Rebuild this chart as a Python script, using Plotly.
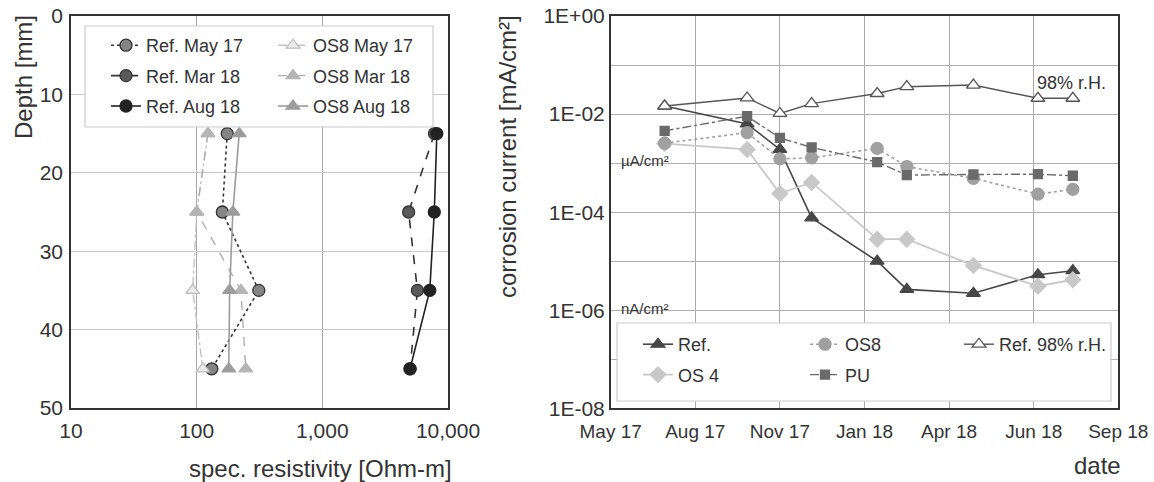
import plotly.graph_objects as go

# ---------------- data: left panel (resistivity profiles) ----------------
depth = [15, 25, 35, 45]
ref_may17 = [175, 160, 312, 132]
ref_mar18 = [7800, 4860, 5710, 4990]
ref_aug18 = [8150, 7780, 7160, 4990]
os8_may17 = [123, 100, 93, 112]
os8_mar18 = [123, 100, 225, 246]
os8_aug18 = [218, 194, 183, 180]
res_ticks = [10, 100, 1000, 10000]
res_ticktext = ["10", "100", "1,000", "10,000"]
depth_ticks = [0, 10, 20, 30, 40, 50]

# ---------------- data: right panel (corrosion current) ----------------
dates = ["2017-07-15", "2017-10-01", "2017-11-01", "2017-12-01", "2018-02-01",
         "2018-03-01", "2018-05-03", "2018-07-03", "2018-08-05"]
cur_ref = [1.46e-2, 6.3e-3, 1.9e-3, 7.65e-5, 1.0e-5, 2.66e-6, 2.22e-6, 5.3e-6, 6.4e-6]
cur_os8 = [2.55e-3, 4.18e-3, 1.22e-3, 1.28e-3, 2.0e-3, 8.5e-4, 4.9e-4, 2.33e-4, 2.92e-4]
cur_ref98 = [1.46e-2, 2.13e-2, 1.03e-2, 1.63e-2, 2.63e-2, 3.62e-2, 3.91e-2, 2.1e-2, 2.1e-2]
cur_os4 = [2.5e-3, 1.9e-3, 2.4e-4, 4.04e-4, 2.81e-5, 2.81e-5, 8.2e-6, 3.09e-6, 4.18e-6]
cur_pu = [4.54e-3, 9.06e-3, 3.27e-3, 2.09e-3, 1.05e-3, 5.69e-4, 5.86e-4, 5.95e-4, 5.52e-4]
date_ticks = ["2017-05-25", "2017-08-13", "2017-11-01", "2018-01-20",
              "2018-04-10", "2018-06-29", "2018-09-17"]
date_ticktext = ["May 17", "Aug 17", "Nov 17", "Jan 18", "Apr 18", "Jun 18", "Sep 18"]
cur_ticks = [1e0, 1e-1, 1e-2, 1e-3, 1e-4, 1e-5, 1e-6, 1e-7, 1e-8]
cur_ticktext = ["1E+00", "", "1E-02", "", "1E-04", "", "1E-06", "", "1E-08"]

FONT = "Liberation Sans, Arial, sans-serif"
TXT = "#333333"
W, H = 1154, 482


def px(x):
    """screen pixel x -> paper fraction"""
    return x / W


def py(y):
    """screen pixel y -> paper fraction"""
    return 1 - y / H


fig = go.Figure()

# left panel traces: (name, values, line colour, dash, width, symbol, fill, outline, legend)
left = [
    ("Ref. May 17", ref_may17, "#333333", "dot", 1.6, "circle", "#858585", "#333333", "legend"),
    ("Ref. Mar 18", ref_mar18, "#333333", "dash", 1.6, "circle", "#5a5a5a", "#333333", "legend"),
    ("Ref. Aug 18", ref_aug18, "#222222", "solid", 1.6, "circle", "#222222", "#222222", "legend"),
    ("OS8 May 17", os8_may17, "#c4c4c4", "dashdot", 1.4, "triangle-up", "#ececec", "#bdbdbd", "legend2"),
    ("OS8 Mar 18", os8_mar18, "#b0b0b0", "dash", 1.4, "triangle-up", "#b4b4b4", "#b4b4b4", "legend2"),
    ("OS8 Aug 18", os8_aug18, "#9c9c9c", "solid", 1.6, "triangle-up", "#9c9c9c", "#9c9c9c", "legend2"),
]
for name, vals, lc, dash, lw, sym, fc, mc, lg in left:
    fig.add_trace(go.Scatter(
        x=vals, y=depth, name=name, mode="lines+markers",
        line=dict(color=lc, dash=dash, width=lw),
        marker=dict(symbol=sym, size=12, color=fc, line=dict(color=mc, width=1.3)),
        xaxis="x", yaxis="y", legend=lg, legendgroup=name))

right = [
    ("Ref.", cur_ref, "#474747", "solid", 1.6, "triangle-up", 12, "#474747", "#474747", "legend3"),
    ("OS 4", cur_os4, "#c8c8c8", "solid", 1.8, "diamond", 12, "#c8c8c8", "#c8c8c8", "legend3"),
    ("OS8", cur_os8, "#a0a0a0", "dot", 1.6, "circle", 12, "#a0a0a0", "#a0a0a0", "legend4"),
    ("PU", cur_pu, "#6a6a6a", "dashdot", 1.4, "square", 9, "#6a6a6a", "#6a6a6a", "legend4"),
    ("Ref. 98% r.H.", cur_ref98, "#555555", "solid", 1.4, "triangle-up", 12, "#ffffff", "#555555", "legend5"),
]
for name, vals, lc, dash, lw, sym, sz, fc, mc, lg in right:
    fig.add_trace(go.Scatter(
        x=dates, y=vals, name=name, mode="lines+markers",
        line=dict(color=lc, dash=dash, width=lw),
        marker=dict(symbol=sym, size=sz, color=fc, line=dict(color=mc, width=1.3)),
        xaxis="x2", yaxis="y2", legend=lg, legendgroup=name))

axis_common = dict(showline=True, linecolor="#333333", linewidth=1.5, mirror=True,
                   ticks="", automargin=False, zeroline=False, ticklabeloverflow="allow")


def tf(size):
    return dict(family=FONT, size=size, color=TXT)


def leg(x, y, gap):
    return dict(x=px(x), y=py(y), xanchor="left", yanchor="top", orientation="v",
                bgcolor="rgba(0,0,0,0)", borderwidth=0, tracegroupgap=gap,
                font=tf(18), traceorder="grouped")


fig.update_layout(
    width=W, height=H,
    margin=dict(l=0, r=0, t=0, b=0, autoexpand=False),
    paper_bgcolor="white", plot_bgcolor="white",
    font=dict(family=FONT, color=TXT),
    xaxis=dict(domain=[px(71), px(448)], type="log", range=[1, 4],
               tickvals=res_ticks, ticktext=res_ticktext, tickfont=tf(21),
               showgrid=True, gridcolor="#a8a8a8", gridwidth=1,
               anchor="y", ticklabelstandoff=3, **axis_common),
    yaxis=dict(domain=[py(408), py(16)], range=[50, 0],
               tickvals=depth_ticks, tickfont=tf(21),
               showgrid=True, gridcolor="#c8c8c8", gridwidth=1,
               anchor="x", ticklabelstandoff=2, **axis_common),
    xaxis2=dict(domain=[px(610.7), px(1118.3)], type="date",
                range=[date_ticks[0], date_ticks[-1]],
                tickvals=date_ticks, ticktext=date_ticktext, tickangle=0, tickfont=tf(19),
                showgrid=True, gridcolor="#ababab", gridwidth=1,
                anchor="y2", ticklabelstandoff=5, **axis_common),
    yaxis2=dict(domain=[py(408.3), py(16)], type="log", range=[-8, 0],
                tickvals=cur_ticks, ticktext=cur_ticktext, tickfont=tf(21),
                showgrid=True, gridcolor="#b0b0b0", gridwidth=1,
                anchor="x2", ticklabelstandoff=0, **axis_common),
    legend=leg(106, 27, 4),
    legend2=leg(273, 27, 4),
    legend3=leg(638, 326, 4),
    legend4=leg(805, 326, 4),
    legend5=leg(959, 326, 4),
    showlegend=True,
)

# legend frames (white boxes that hide the plot beneath, as in the original)
for x0, y0, x1, y1 in [(85, 26, 433, 127), (617, 323, 1111, 401)]:
    fig.add_shape(type="rect", xref="paper", yref="paper",
                  x0=px(x0), x1=px(x1), y0=py(y1), y1=py(y0),
                  fillcolor="white", line=dict(color="#cccccc", width=1.2), layer="above")

ann = [
    dict(text="Depth [mm]", x=px(23), y=py(77), textangle=-90, size=24, xa="center", ya="middle"),
    dict(text="spec. resistivity [Ohm-m]", x=px(454), y=py(468), textangle=0, size=24, xa="right", ya="middle"),
    dict(text="corrosion current [mA/cm²]", x=px(508), y=py(157), textangle=-90, size=24, xa="center", ya="middle"),
    dict(text="date", x=px(1123), y=py(465), textangle=0, size=24, xa="right", ya="middle"),
    dict(text="98% r.H.", x=px(1071), y=py(83), textangle=0, size=18, xa="center", ya="middle"),
    dict(text="µA/cm²", x=px(619), y=py(161), textangle=0, size=15, xa="left", ya="middle"),
    dict(text="nA/cm²", x=px(619), y=py(308), textangle=0, size=15, xa="left", ya="middle"),
]
for a in ann:
    fig.add_annotation(text=a["text"], x=a["x"], y=a["y"], xref="paper", yref="paper",
                       textangle=a["textangle"], showarrow=False,
                       xanchor=a["xa"], yanchor=a["ya"], font=tf(a["size"]))

fig.write_html("out.html",
               config={"displayModeBar": False},
               post_script="document.body.style.margin='0';document.body.style.overflow='hidden';")
